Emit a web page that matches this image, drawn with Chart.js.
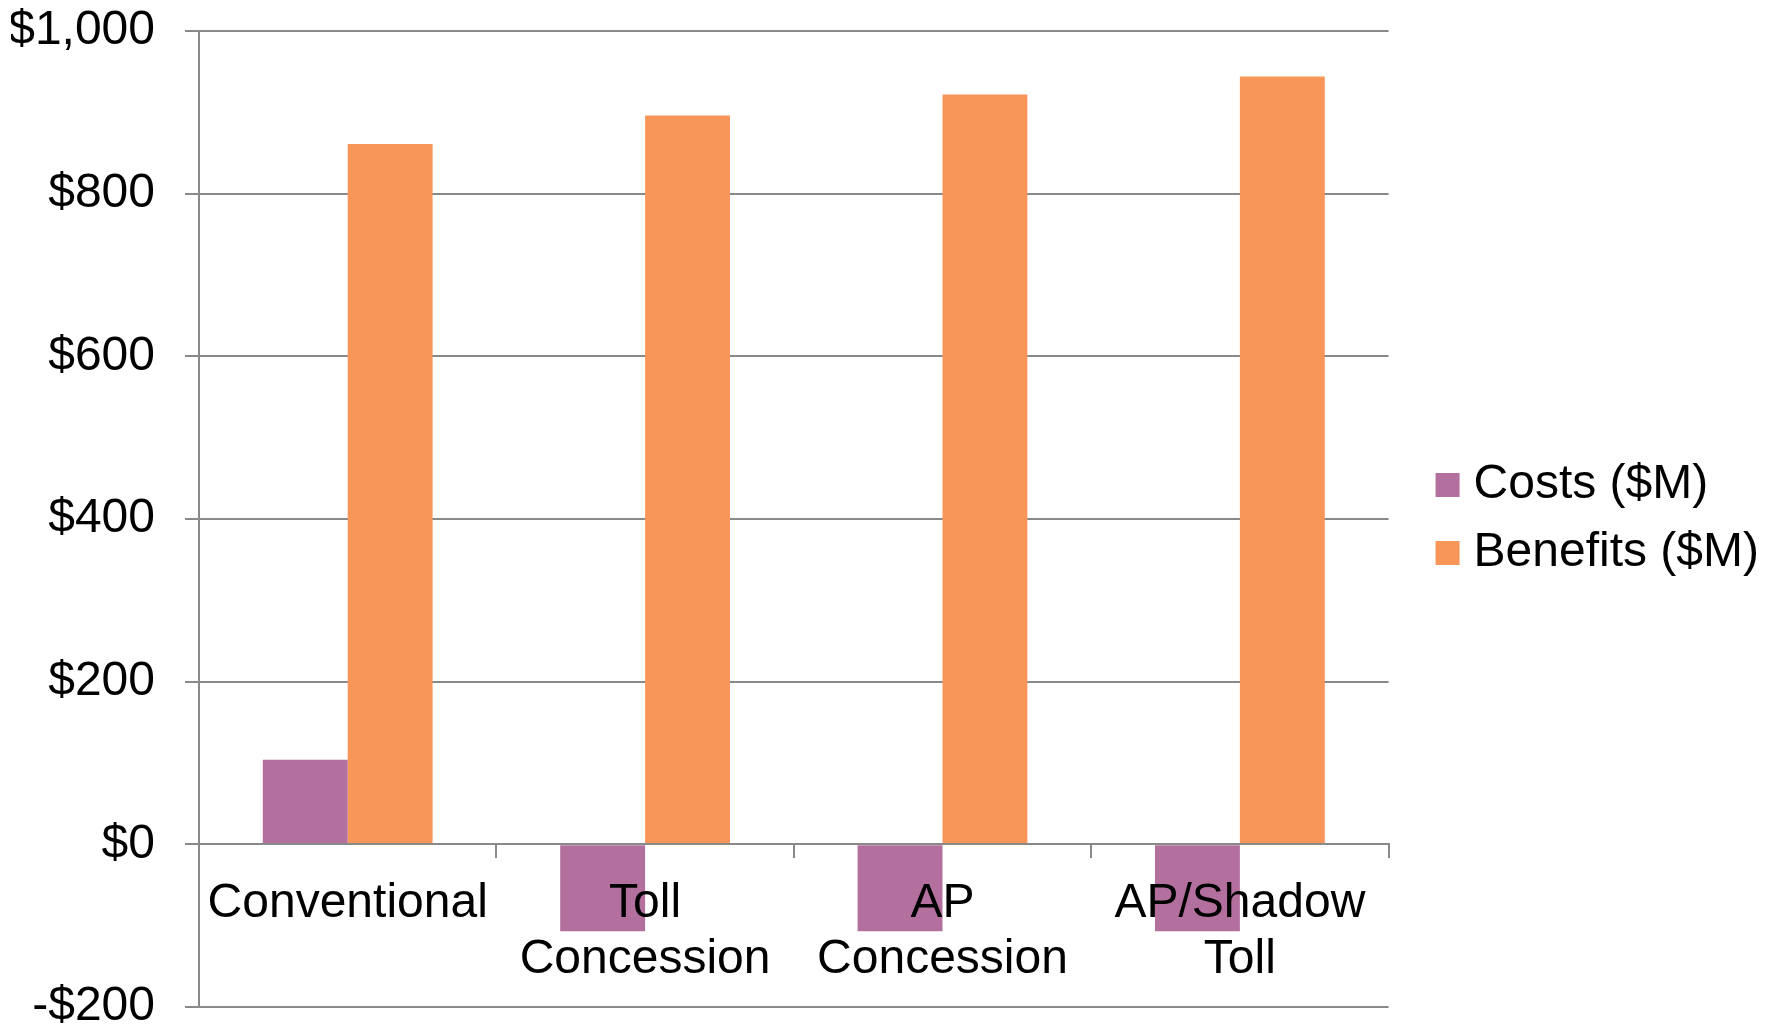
<!DOCTYPE html>
<html>
<head>
<meta charset="utf-8">
<script src="https://cdn.jsdelivr.net/npm/chart.js@4/dist/chart.umd.min.js"></script>
<style>
  html, body { margin: 0; padding: 0; background: #ffffff; }
  #wrap { width: 1776px; height: 1028px; position: relative; }
</style>
</head>
<body>
<div id="wrap"><canvas id="c"></canvas></div>
<script>
const categories = ['Conventional', ['Toll', 'Concession'], ['AP', 'Concession'], ['AP/Shadow', 'Toll']];
const costs = [104, -107, -107, -107];
const benefits = [861, 896, 922, 944];
const seriesNames = ['Costs ($M)', 'Benefits ($M)'];
const yMin = -200, yMax = 1000, yStep = 200;

const FONT = "'Liberation Sans', Arial, sans-serif";
const GRID = '#898989';

new Chart(document.getElementById('c'), {
  type: 'bar',
  data: {
    labels: categories,
    datasets: [
      { label: seriesNames[0], data: costs, backgroundColor: '#B3709F', borderWidth: 0 },
      { label: seriesNames[1], data: benefits, backgroundColor: '#F79658', borderWidth: 0 }
    ]
  },
  options: {
    responsive: true,
    maintainAspectRatio: false,
    animation: false,
    devicePixelRatio: 1,
    layout: { padding: { left: 11, right: 7, top: 31, bottom: 21 } },
    datasets: { bar: { categoryPercentage: 0.571, barPercentage: 1.0 } },
    plugins: {
      tooltip: { enabled: false },
      legend: {
        position: 'right',
        maxWidth: 420,
        labels: {
          font: { family: FONT, size: 48 },
          color: '#000000',
          usePointStyle: true,
          pointStyle: 'rect',
          boxWidth: 4,
          boxHeight: 24,
          padding: 20
        }
      }
    },
    scales: {
      x: {
        position: { y: 0 },
        offset: true,
        grid: { display: true, offset: true, drawOnChartArea: false, drawTicks: true, tickLength: 13, color: GRID, lineWidth: 2 },
        border: { display: true, color: GRID, width: 2, z: 1 },
        ticks: { z: 1, font: { family: FONT, size: 48, lineHeight: 1.16 }, color: '#000000', padding: 19, maxRotation: 0, autoSkip: false }
      },
      y: {
        min: yMin,
        max: yMax,
        grid: { color: GRID, lineWidth: 2, tickLength: 14, drawTicks: true },
        border: { display: true, color: GRID, width: 2 },
        ticks: {
          stepSize: yStep,
          font: { family: FONT, size: 48 },
          color: '#000000',
          padding: 30,
          callback: (v) => (v < 0 ? '-$' : '$') + Math.abs(v).toLocaleString('en-US')
        },
        afterFit: (s) => { s.width = 188; s.paddingTop = 0; s.paddingBottom = 0; }
      },
      yGap: {
        position: 'right',
        display: true,
        grid: { display: false },
        border: { display: false },
        ticks: { display: false },
        afterFit: (s) => { s.width = 37; s.paddingTop = 0; s.paddingBottom = 0; }
      }
    }
  }
});
</script>
</body>
</html>
